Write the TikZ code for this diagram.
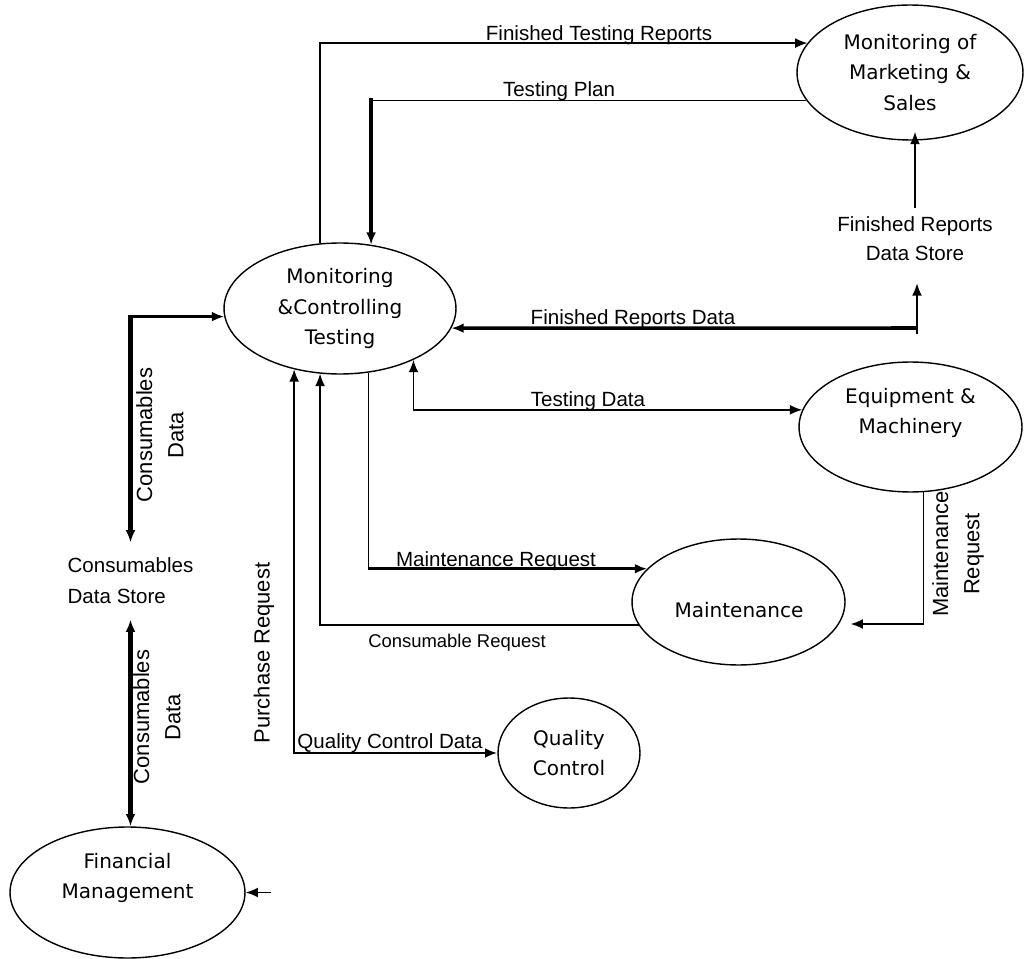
\documentclass[tikz,border=0pt]{standalone}
\usepackage{fontspec}
\usetikzlibrary{shapes.geometric,arrows.meta,calc}
\newfontfamily\lblfont{Liberation Sans}
\newfontfamily\ellfont{DejaVu Sans}
\begin{document}
\begin{tikzpicture}[x=0.02cm,y=-0.02cm,
  ell/.style={ellipse, draw, line width=0.8pt, inner sep=0pt, align=center, font=\ellfont\fontsize{11.4}{17.5}\selectfont},
  etext/.style={align=center, inner sep=0pt, font=\ellfont\fontsize{11.4}{17.5}\selectfont},
  lbl/.style={font=\lblfont\fontsize{11.7}{17.8}\selectfont, inner sep=0pt},
  rlbl/.style={font=\lblfont\fontsize{12.5}{17.8}\selectfont, align=center, rotate=90, inner sep=0pt},
  ln/.style={line width=0.75pt},
  med/.style={line width=1.4pt},
  thk/.style={line width=2.6pt},
  arr/.style={-{Latex[length=7pt,width=5.6pt]}},
  biarr/.style={{Latex[length=7pt,width=5.6pt]}-{Latex[length=7pt,width=5.6pt]}},
]
\useasboundingbox[fill=white] (0,0) rectangle (1024,959);

% processes
\node[ell, minimum width=4.64cm, minimum height=2.62cm] (mct) at (340,308.5) {Monitoring\\\&Controlling\\Testing};
\node[ell, minimum width=4.52cm, minimum height=2.7cm] (mms) at (910,72.5) {Monitoring of\\Marketing \&\\Sales};
\node[ell, minimum width=4.46cm, minimum height=2.6cm] (eqm) at (910.5,427) {};
\node[etext] (eqmt) at (910.5,413) {Equipment \&\\Machinery};
\node[ell, minimum width=4.26cm, minimum height=2.52cm] (mnt) at (738.5,602) {};
\node[etext] (mntt) at (739,610) {Maintenance};
\node[ell, minimum width=2.84cm, minimum height=2.2cm] (qc) at (569,753) {Quality\\Control};
\node[ell, minimum width=4.7cm, minimum height=2.62cm] (fm) at (127.5,892.5) {};
\node[etext] (fmt) at (127.5,878) {Financial\\Management};

% data stores
\node[lbl, align=left] (cds) at (130.5,581) {Consumables\\Data Store};
\node[lbl, align=center, font=\lblfont\fontsize{11.7}{16.5}\selectfont] (frds) at (915,239) {Finished Reports\\Data Store};

% Finished Testing Reports
\draw[ln, arr] (mct.107.2) |- (mms.164.4);
\node[lbl, anchor=base] (lftr) at (599,41) {Finished Testing Reports};

% Testing Plan
\coordinate (tpc) at (mct.64.6 |- mms.195.6);
\draw[ln] (mms.195.6) -- (tpc);
\draw[thk, arr] ([yshift=1.3pt]tpc) -- (mct.64.6);
\node[lbl, anchor=base] (ltp) at (559,97) {Testing Plan};

% Finished reports data store -> marketing
\draw[ln, arr] ([yshift=5pt]frds.north) -- ([yshift=5pt]frds.north |- mms.south);

% Finished Reports Data
\coordinate (frdj) at (916,328);
\coordinate (frdb) at (917,334);
\draw[line width=2pt, arr] (frdj) -- (mct.-10);
\draw[ln, arr] (frdb) -- ([yshift=-12.5pt]frds.south -| frdb);
\node[lbl, anchor=base] (lfrd) at (633,325) {Finished Reports Data};

% Testing Data
\draw[ln, biarr] (mct.-35.5) |- (eqm.171.6);
\node[lbl, anchor=base] (ltd) at (588,406) {Testing Data};

% Maintenance Request (from testing)
\coordinate (mrc) at (mct.-66.2 |- mnt.160);
\draw[ln] (mct.-66.2) -- (mrc);
\draw[line width=1.8pt, arr] ([xshift=-0.6pt]mrc) -- (mnt.160);
\node[lbl, anchor=base] (lmr) at (496,566) {Maintenance Request};

% Consumable Request
\draw[ln, arr] (mnt.193.1) -| (mct.253.6);
\node[lbl, anchor=base, font=\lblfont\fontsize{10.5}{14}\selectfont] (lcr) at (457,647) {Consumable Request};

% Purchase Request / Quality Control Data
\coordinate (qcc) at (mct.233.3 |- qc.west);
\draw[ln, arr] (qcc) -- (mct.233.3);
\draw[med, arr] ([xshift=-0.4pt]qcc) -- (qc.west);
\node[rlbl] (lpr) at (264,653) {Purchase Request};
\node[lbl, anchor=base] (lqc) at (390,748) {Quality Control Data};

% Consumables Data (upper)
\coordinate (c1) at (cds.north |- mct.184.2);
\draw[med, arr] ([xshift=-1.3pt]c1) -- (mct.184.2);
\draw[thk, arr] ([yshift=0.7pt]c1) -- ([yshift=8.5pt]cds.north);
\node[rlbl] (lcd1) at (160,435) {Consumables\\Data};

% Consumables Data (lower)
\draw[thk, biarr] ([yshift=-8.5pt]cds.south) -- (cds.south |- fm.north);
\node[rlbl] (lcd2) at (157,717) {Consumables\\Data};

% Maintenance Request (from equipment)
\draw[ln, arr] (eqm.-79.5) |- ($(mnt.east)+(5,22)$);
\node[rlbl] (lmr2) at (958,554) {Maintenance\\Request};

% incoming arrow to Financial Management
\coordinate (fmin) at ($(fm.east)+(25,0)$);
\draw[ln, arr] (fmin) -- (fm.east);
\end{tikzpicture}
\end{document}
